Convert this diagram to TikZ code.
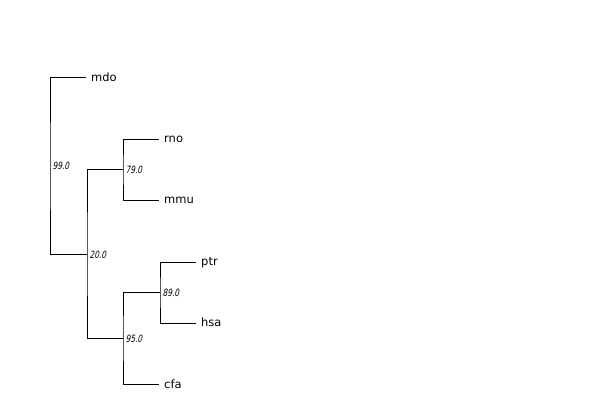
\documentclass[tikz,border=0pt]{standalone}
\usepackage{fontspec}
\setmainfont{DejaVu Sans}
\newfontfamily\supfont[FakeStretch=0.74,FakeSlant=0.2]{DejaVu Sans}
\begin{document}
\begin{tikzpicture}[x=1pt,y=-1pt,
  branch/.style={draw=black,line width=0.9pt},
  leaf/.style={anchor=west,inner xsep=5pt,inner ysep=0pt,text height=8pt,text depth=1pt,
    font=\fontsize{11.5}{12}\selectfont},
  support/.style={anchor=west,inner xsep=0pt,inner ysep=0pt,text height=7pt,text depth=0pt,
    xshift=2.5pt,font=\supfont\fontsize{10}{11}\selectfont}]
\useasboundingbox[fill=white] (0,0) rectangle (597,400);
% internal nodes
\coordinate (r)  at (50,165.5);
\coordinate (n1) at (87,254.5);
\coordinate (n2) at (123,169.5);
\coordinate (n3) at (123,338.5);
\coordinate (n4) at (160,292.5);
% leaves
\node[leaf] (mdo) at (86,77.5) {mdo};
\node[leaf] (rno) at (159,139) {rno};
\node[leaf] (mmu) at (159,200) {mmu};
\node[leaf] (ptr) at (196,262) {ptr};
\node[leaf] (hsa) at (196,323) {hsa};
\node[leaf] (cfa) at (159,384.5) {cfa};
% branches
\draw[branch] (mdo.west) -| (r) |- (n1);
\draw[branch] (n2) -| (n1) |- (n3);
\draw[branch] (rno.west) -| (n2) |- (mmu.west);
\draw[branch] (n4) -| (n3) |- (cfa.west);
\draw[branch] (ptr.west) -| (n4) |- (hsa.west);
% support values
\node[support] (s99) at (r)  {99.0};
\node[support] (s20) at (n1) {20.0};
\node[support] (s79) at (n2) {79.0};
\node[support] (s95) at (n3) {95.0};
\node[support] (s89) at (n4) {89.0};
\end{tikzpicture}
\end{document}
